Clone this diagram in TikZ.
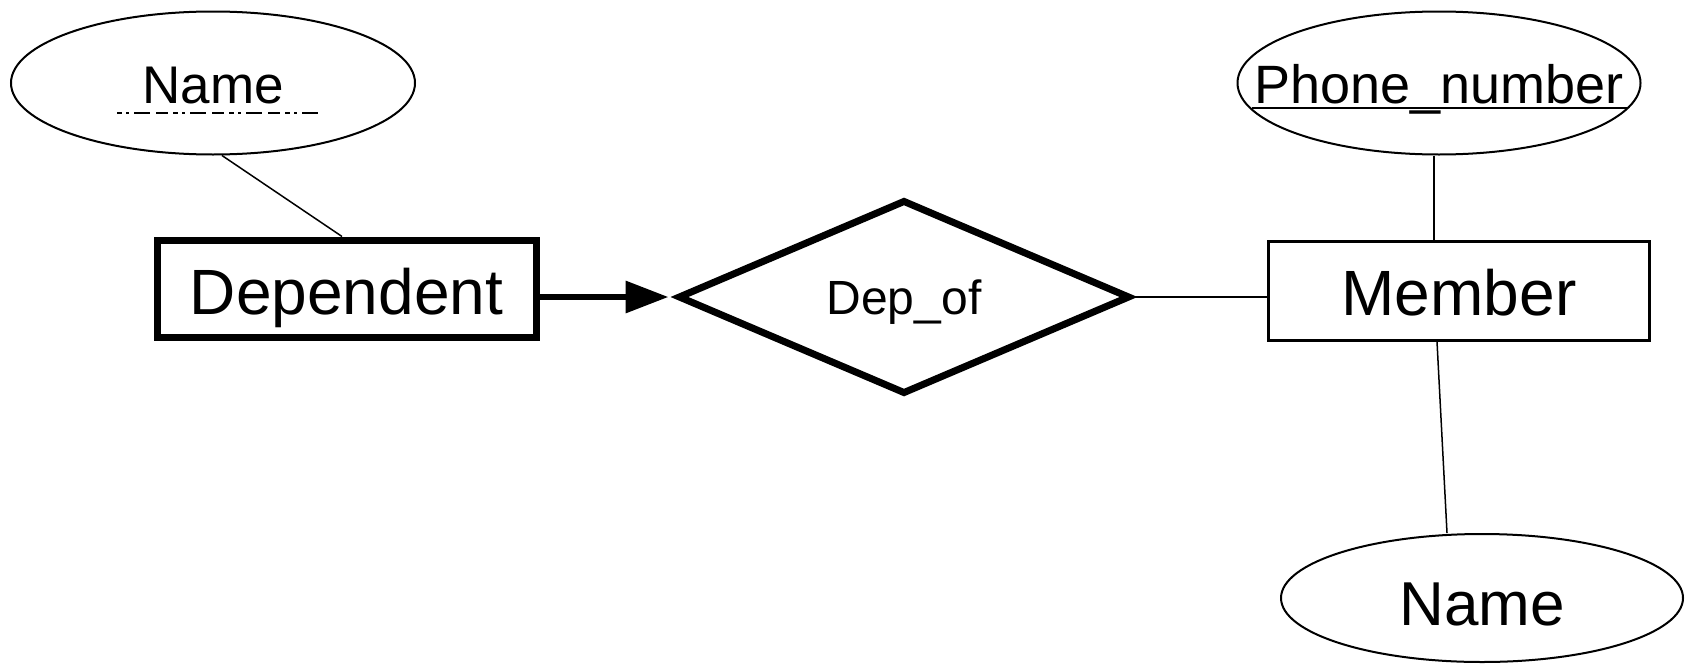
\documentclass[tikz,border=0pt]{standalone}
\usepackage{fontspec}
\setmainfont{Liberation Sans}
\usetikzlibrary{shapes.geometric,arrows.meta}
\begin{document}
\begin{tikzpicture}[x=1pt,y=-1pt,
  attr/.style={draw, ellipse, line width=2pt, inner sep=0pt, text depth=0pt},
  weakent/.style={draw, rectangle, line width=7pt, inner sep=0pt, text depth=0pt, line join=miter},
  strongent/.style={draw, rectangle, line width=2.5pt, inner sep=0pt, text depth=0pt},
  rel/.style={draw, diamond, line width=7pt, inner sep=0pt, text depth=0pt, line join=miter},
  conn/.style={line width=1.5pt},
  ulbase/.style={line width=2pt}
]
\fill[white] (0,0) rectangle (1686,664);
\useasboundingbox (0,0) rectangle (1686,664);

\node[attr, minimum width=404pt, minimum height=143pt, text height=40pt]
  (nameA) at (213,83) {\makebox[0pt][c]{\fontsize{53}{60}\selectfont Name}};
\node[attr, minimum width=403pt, minimum height=143pt, text height=40pt]
  (phone) at (1439,83) {\makebox[0pt][c]{\fontsize{54}{60}\selectfont Phone\_number}};
\node[attr, minimum width=402pt, minimum height=128pt, text height=54pt]
  (nameB) at (1482,598) {\makebox[0pt][c]{\fontsize{62}{70}\selectfont Name}};

\node[weakent, minimum width=379pt, minimum height=97pt, text height=51pt]
  (dep) at (346.5,288.5) {\fontsize{64}{70}\selectfont Dependent};
\node[strongent, minimum width=381pt, minimum height=99pt, text height=48pt]
  (mem) at (1459,291) {\fontsize{64}{70}\selectfont Member};
\node[rel, minimum width=452pt, minimum height=194pt, text height=34pt]
  (depof) at (904,297) {\makebox[0pt][c]{\fontsize{48}{54}\selectfont Dep\_of}};

% underlines of key attributes
\draw[ulbase, dash pattern=on 5pt off 4pt on 3pt off 5pt on 16pt off 6pt on 12pt off 5pt]
  ([xshift=-96pt,yshift=-30pt]nameA.center) coordinate (ulA1) -- ([xshift=110pt,yshift=-30pt]nameA.center) coordinate (ulA2);
\draw[ulbase]
  ([xshift=-187pt,yshift=-25pt]phone.center) coordinate (ulP1) -- ([xshift=189pt,yshift=-25pt]phone.center) coordinate (ulP2);

% connectors
\draw[conn] (nameA.277) -- ([xshift=-4.5pt]dep.north);
\draw[conn] ([xshift=-5pt]phone.south) -- ([xshift=-25pt]mem.north);
\draw[conn] ([xshift=-22pt]mem.south) -- ([xshift=-35pt]nameB.north);
\draw[conn] (depof.east) -- (depof.east -| mem.west);
\draw[line width=6.5pt, -{Triangle[length=43pt,width=31pt]}, shorten >=6pt]
  (dep.east |- depof.west) -- (depof.west);
\end{tikzpicture}
\end{document}
